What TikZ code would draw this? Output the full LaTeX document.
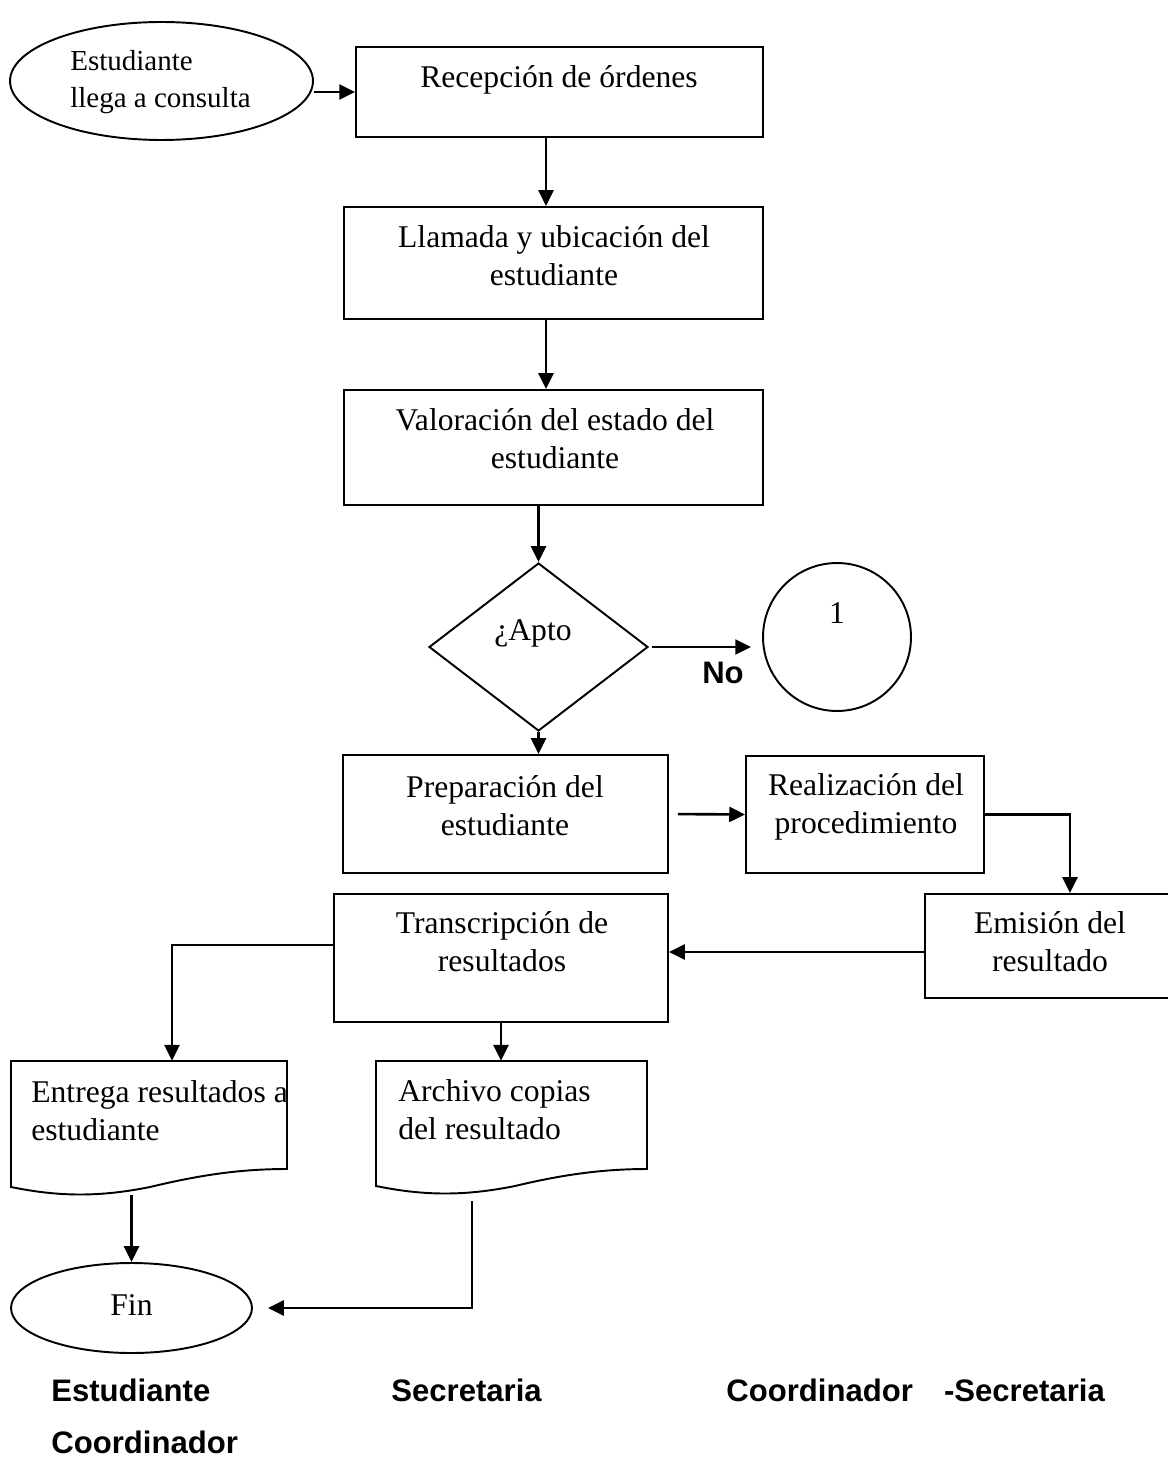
\documentclass[tikz,border=0pt]{standalone}
\usepackage{fontspec}
\setmainfont{Liberation Serif}
\newfontfamily\arial{Liberation Sans}
\usetikzlibrary{shapes,arrows,arrows.meta,positioning}

\tikzset{
  caja/.style={draw, line width=1.1pt, inner sep=0pt},
  texto/.style={anchor=north, inner sep=0pt, align=center, font=\fontsize{18pt}{21.5pt}\selectfont},
  flecha/.style={line width=1.5pt, -{Triangle[length=9pt,width=8.5pt]}},
  etiqueta/.style={anchor=base west, inner sep=0pt, font=\arial\bfseries\fontsize{17.7pt}{21pt}\selectfont},
}

\begin{document}
\begin{tikzpicture}[x=0.02cm, y=-0.02cm]
\useasboundingbox (0,0) rectangle (1168,1459);

% Inicio
\node[caja, ellipse, minimum width=6.06cm, minimum height=2.36cm] (inicio) at (161.5,81) {};
\node[texto, anchor=north west, align=left, font=\fontsize{16.5pt}{21pt}\selectfont] (inicio-t) at (70,44) {\strut Estudiante\\llega a consulta};

% Cajas de proceso
\node[caja, minimum width=8.14cm, minimum height=1.8cm] (recep) at (559.5,92) {};
\node[texto] (recep-t) at (559,60.5) {\strut Recepción de órdenes};

\node[caja, minimum width=8.38cm, minimum height=2.24cm] (llamada) at (553.5,263) {};
\node[texto] (llamada-t) at (554,220.5) {\strut Llamada y ubicación del\\estudiante};

\node[caja, minimum width=8.38cm, minimum height=2.3cm] (valor) at (553.5,447.5) {};
\node[texto] (valor-t) at (555,403.5) {\strut Valoración del estado del\\estudiante};

% Decision
\node[caja, diamond, minimum width=4.38cm, minimum height=3.36cm] (apto) at (538.5,647) {};
\node[texto] (apto-t) at (533,613.5) {\strut ¿Apto};

\node[caja, circle, minimum size=2.96cm] (uno) at (837,637) {};
\node[texto] (uno-t) at (837,596.5) {\strut 1};
\node[etiqueta, anchor=base] (no) at (723,683) {No};

\node[caja, minimum width=6.5cm, minimum height=2.36cm] (prep) at (505.5,814) {};
\node[texto] (prep-t) at (505,770.5) {\strut Preparación del\\estudiante};

\node[caja, minimum width=4.76cm, minimum height=2.34cm] (realiz) at (865,814.5) {};
\node[texto] (realiz-t) at (866,768.5) {\strut Realización del\\procedimiento};

\node[caja, minimum width=5cm, minimum height=2.08cm] (emision) at (1050,946) {};
\node[texto] (emision-t) at (1050,906.5) {\strut Emisión del\\resultado};

\node[caja, minimum width=6.68cm, minimum height=2.56cm] (tran) at (501,958) {};
\node[texto] (tran-t) at (502,906.5) {\strut Transcripción de\\resultados};

% Documentos
\node[inner sep=0pt, minimum width=5.52cm, minimum height=2.68cm] (entrega) at (149,1128) {};
\draw[line width=1.1pt] (11,1187) -- (11,1061) -- (287,1061) -- (287,1169)
  .. controls (240,1169) and (200,1175) .. (150,1187)
  .. controls (100,1197) and (60,1197) .. (11,1187) -- cycle;
\begin{scope}
  \clip (11,1061) rectangle (286,1200);
  \node[texto, anchor=north west, align=left] (entrega-t) at (31,1075.5) {\strut Entrega resultados a\\estudiante};
\end{scope}

\node[inner sep=0pt, minimum width=5.42cm, minimum height=2.68cm] (archivo) at (511.5,1128) {};
\draw[line width=1.1pt] (376,1186) -- (376,1061) -- (647,1061) -- (647,1169)
  .. controls (605,1169) and (565,1174) .. (515,1186)
  .. controls (465,1196) and (425,1196) .. (376,1186) -- cycle;
\node[texto, anchor=north west, align=left] (archivo-t) at (398,1074.5) {\strut Archivo copias\\del resultado};

% Fin
\node[caja, ellipse, minimum width=4.82cm, minimum height=1.8cm] (fin) at (131.5,1308) {};
\node[texto] (fin-t) at (131.5,1288.5) {\strut Fin};

% Conectores
\draw[flecha] (inicio.east |- recep.west) -- (recep.west);
\draw[flecha] ([xshift=-0.15cm]llamada.north |- recep.south) -- ([xshift=-0.15cm]llamada.north);
\draw[flecha] ([xshift=-0.15cm]valor.north |- llamada.south) -- ([xshift=-0.15cm]valor.north);
\draw[flecha] (apto.north |- valor.south) -- (apto.north);
\draw[flecha, shorten <=0.06cm, shorten >=0.22cm] (apto.east) -- (apto.east -| uno.west);
\draw[flecha] (apto.south) -- (apto.south |- prep.north);
\draw[flecha, shorten <=0.18cm] (prep.east) -- (realiz.west);
\draw[flecha] (realiz.east) -| ([xshift=0.4cm]emision.north);
\draw[flecha] ([yshift=-0.12cm]emision.west) -- ([yshift=-0.12cm]emision.west -| tran.east);
\draw[flecha] ([yshift=0.26cm]tran.west) -| ([xshift=0.46cm]entrega.north);
\draw[flecha] (tran.south) -- (tran.south |- archivo.north);
\draw[flecha] (entrega.south -| fin.north) -- (fin.north);
\coordinate (archivo-sal) at (472,1201);
\draw[flecha, shorten >=0.3cm] (archivo-sal) |- (fin.east);

% Responsables
\node[etiqueta] (rol-est) at (51,1401) {Estudiante};
\node[etiqueta] (rol-sec) at (391,1401) {Secretaria};
\node[etiqueta] (rol-coo) at (726,1401) {Coordinador\quad-Secretaria};
\node[etiqueta] (rol-coo2) at (51,1453) {Coordinador};
\end{tikzpicture}
\end{document}
